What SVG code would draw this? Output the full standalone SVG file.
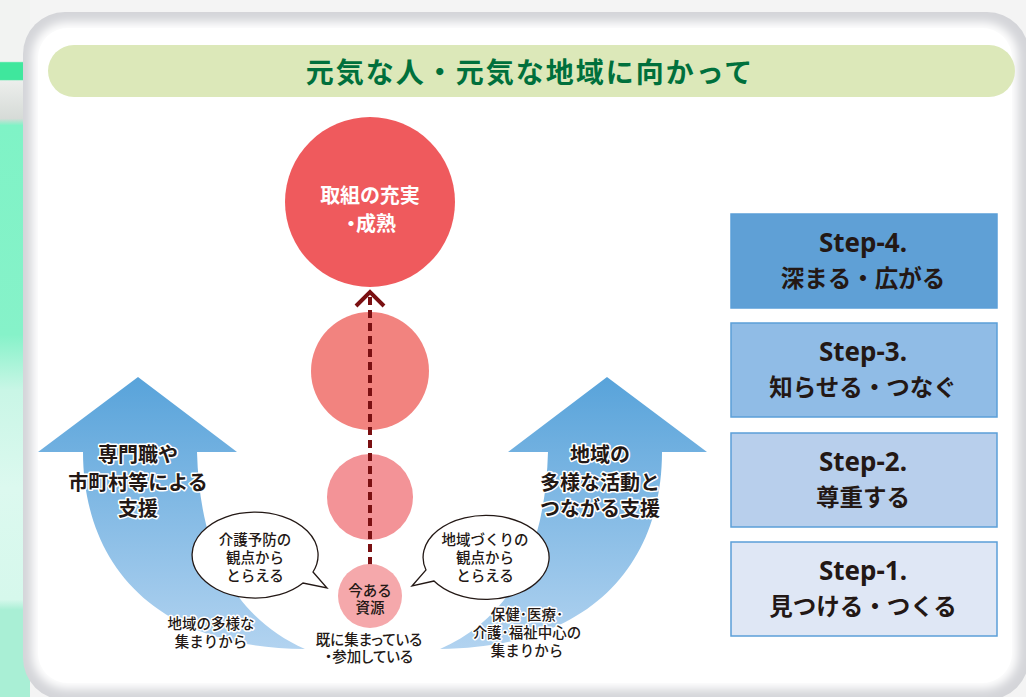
<svg xmlns="http://www.w3.org/2000/svg" width="1026" height="697" viewBox="0 0 1026 697">
<defs>
<style>
.jp{font-family:"Noto Sans CJK JP","Noto Sans",sans-serif;}
.lbl{font-family:"Liberation Sans","Noto Sans CJK JP",sans-serif;font-weight:bold;font-size:20px;fill:#231815;text-anchor:middle;paint-order:stroke;stroke:#fff;stroke-width:3;stroke-linejoin:round;}
.sm{font-family:"Liberation Sans","Noto Sans CJK JP",sans-serif;font-weight:500;font-size:14.5px;fill:#231815;text-anchor:middle;}
.halo{paint-order:stroke;stroke:#fff;stroke-width:3;stroke-linejoin:round;}
.palt{font-feature-settings:"palt";}
.step{stroke:#5b9fd8;stroke-width:1.5;}
.stepEn{font-family:"Noto Sans","Noto Sans CJK JP",sans-serif;font-weight:bold;font-size:26px;fill:#231815;text-anchor:middle;}
.stepJp{font-family:"Noto Sans CJK JP",sans-serif;font-weight:bold;font-size:23.5px;fill:#231815;text-anchor:middle;}
.bubble{fill:#fff;stroke:#231815;stroke-width:1.3;}
</style>
<linearGradient id="side" x1="0" y1="0" x2="0" y2="1">
<stop offset="0" stop-color="#f2f3f2"/>
<stop offset="0.088" stop-color="#f2f3f2"/>
<stop offset="0.09" stop-color="#3fe79d"/>
<stop offset="0.114" stop-color="#3fe79d"/>
<stop offset="0.116" stop-color="#eceeec"/>
<stop offset="0.17" stop-color="#d6dbd7"/>
<stop offset="0.18" stop-color="#7ff3c6"/>
<stop offset="0.48" stop-color="#86f2c9"/>
<stop offset="0.56" stop-color="#c9f6e6"/>
<stop offset="0.7" stop-color="#dcf9ef"/>
<stop offset="0.86" stop-color="#d6f8ec"/>
<stop offset="0.875" stop-color="#a9efd5"/>
<stop offset="1" stop-color="#a9efd5"/>
</linearGradient>
<linearGradient id="arrowG" x1="0" y1="377" x2="0" y2="650" gradientUnits="userSpaceOnUse">
<stop offset="0" stop-color="#58a3da"/>
<stop offset="1" stop-color="#b2d3f0"/>
</linearGradient>
<filter id="soft" x="-5%" y="-5%" width="110%" height="110%">
<feGaussianBlur stdDeviation="5"/>
</filter>
</defs>

<g id="background">
<rect x="0" y="0" width="1026" height="697" fill="#f4f4f4"/>
<rect x="0" y="0" width="30" height="697" fill="url(#side)"/>
</g>

<g id="panel">
<rect x="23" y="12" width="1006" height="688" rx="42" fill="#d4d5d9"/>
<rect x="32" y="22" width="986" height="667" rx="35" fill="#ffffff" filter="url(#soft)"/>
<rect x="38" y="28" width="974" height="655" rx="30" fill="#ffffff"/>
</g>

<g id="title">
<rect x="48" y="45" width="967" height="52" rx="26" fill="#dce8b9"/>
<text x="530" y="83" class="jp" font-size="28" font-weight="bold" fill="#00703c" text-anchor="middle" letter-spacing="2">元気な人・元気な地域に向かって</text>
</g>

<g id="arrow-left">
<path d="M138,377 L237,452 L197,452 C200,560 240,620 305,649 C150,648 83,560 83,452 L38,452 Z" fill="url(#arrowG)"/>
<text class="lbl"><tspan x="138" y="462">専門職や</tspan><tspan x="138" y="490">市町村等による</tspan><tspan x="138" y="516">支援</tspan></text>
</g>

<g id="arrow-right">
<path d="M607,377 L707,452 L662,452 C662,560 595,648 440,649 C505,620 545,560 548,452 L508,452 Z" fill="url(#arrowG)"/>
<text class="lbl"><tspan x="600" y="462">地域の</tspan><tspan x="600" y="490">多様な活動と</tspan><tspan x="600" y="516">つながる支援</tspan></text>
</g>

<g id="circle-top">
<circle cx="370" cy="202" r="85" fill="#ef5a5d"/>
<text class="jp palt" font-size="20" font-weight="bold" fill="#ffffff" text-anchor="middle"><tspan x="370" y="203">取組の充実</tspan><tspan x="371" y="231">・成熟</tspan></text>
</g>
<g id="circle-2">
<circle cx="370" cy="371" r="59" fill="#f2837f"/>
</g>
<g id="circle-3">
<circle cx="370" cy="497" r="43" fill="#f39397"/>
</g>

<g id="connectors">
<line x1="370" y1="565" x2="370" y2="294" stroke="#7a1012" stroke-width="4" stroke-dasharray="8 5"/>
<polyline points="356,306 370,292 384,306" fill="none" stroke="#7a1012" stroke-width="4"/>
</g>

<g id="circle-resource">
<circle cx="370" cy="596" r="32" fill="#f5a8ab"/>
<text class="sm" font-size="15"><tspan x="370" y="596">今ある</tspan><tspan x="370" y="613">資源</tspan></text>
</g>

<g id="bubble-left">
<path class="bubble" d="M313,572 L327,588 L303,583 A63 43 0 1 1 313,572 Z"/>
<text class="sm"><tspan x="255" y="545">介護予防の</tspan><tspan x="255" y="563">観点から</tspan><tspan x="255" y="581">とらえる</tspan></text>
</g>

<g id="bubble-right">
<path class="bubble" d="M434,581 L412,586 L426,570 A63 42 0 1 1 434,581 Z"/>
<text class="sm"><tspan x="485" y="545">地域づくりの</tspan><tspan x="485" y="563">観点から</tspan><tspan x="485" y="581">とらえる</tspan></text>
</g>

<g id="label-left">
<text class="sm halo"><tspan x="211" y="629">地域の多様な</tspan><tspan x="211" y="647">集まりから</tspan></text>
</g>
<g id="label-center">
<text class="sm halo palt"><tspan x="369" y="645">既に集まっている</tspan><tspan x="369" y="662">・参加している</tspan></text>
</g>
<g id="label-right">
<text class="sm halo"><tspan x="527" y="620">保健･医療･</tspan><tspan x="527" y="638">介護･福祉中心の</tspan><tspan x="527" y="656">集まりから</tspan></text>
</g>

<g id="step4">
<rect class="step" x="731" y="214" width="266" height="94" fill="#5fa0d6"/>
<text class="stepEn" x="863" y="252">Step-4.</text>
<text class="stepJp" x="863" y="287">深まる・広がる</text>
</g>
<g id="step3">
<rect class="step" x="731" y="323" width="266" height="94" fill="#90bce6"/>
<text class="stepEn" x="863" y="361">Step-3.</text>
<text class="stepJp" x="863" y="396">知らせる・つなぐ</text>
</g>
<g id="step2">
<rect class="step" x="731" y="433" width="266" height="94" fill="#b8cfec"/>
<text class="stepEn" x="863" y="471">Step-2.</text>
<text class="stepJp" x="863" y="506">尊重する</text>
</g>
<g id="step1">
<rect class="step" x="731" y="542" width="266" height="94" fill="#dfe7f5"/>
<text class="stepEn" x="863" y="580">Step-1.</text>
<text class="stepJp" x="863" y="615">見つける・つくる</text>
</g>
</svg>
